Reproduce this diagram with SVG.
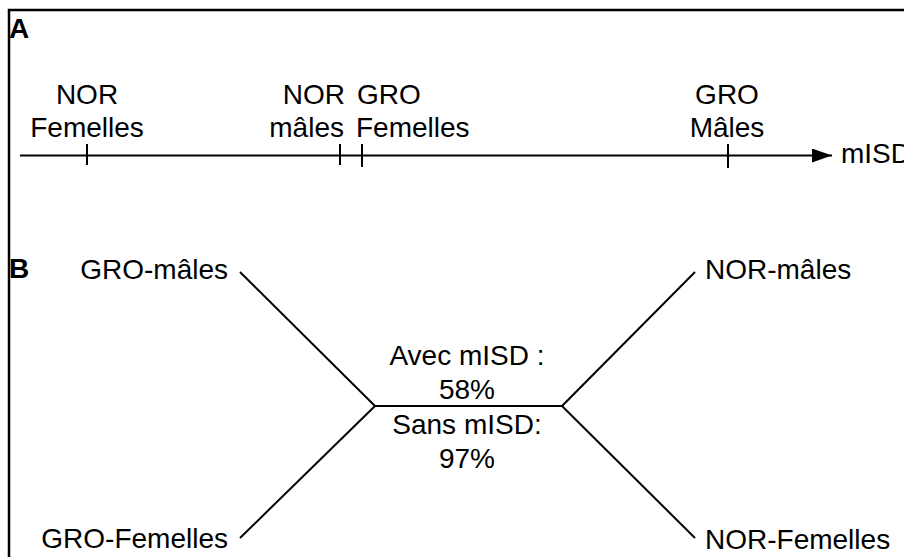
<svg xmlns="http://www.w3.org/2000/svg" width="904" height="557" viewBox="0 0 904 557">
<style>
  .t { font-family: "Liberation Sans", Arial, sans-serif; font-size: 28px; fill: #000; }
  .lbl { font-family: "Liberation Sans", Arial, sans-serif; font-size: 28px; font-weight: bold; fill: #000; }
  .ln { stroke: #000; stroke-width: 2; fill: none; }
  .tick { stroke: #000; stroke-width: 2; }
</style>
<defs>
  <marker id="arr" markerUnits="userSpaceOnUse" markerWidth="22" markerHeight="14" refX="20" refY="7" orient="auto">
    <path d="M0,0 L20,7 L0,14 Z" fill="#000"/>
  </marker>
</defs>
<rect x="0" y="0" width="904" height="557" fill="#fff"/>
<!-- frame -->
<path d="M9,557 L9,10 L904,10" fill="none" stroke="#000" stroke-width="2.5"/>
<text class="lbl" x="9" y="38">A</text>
<text class="lbl" x="9" y="278">B</text>

<!-- Panel A -->
<g id="axis">
  <line class="ln" x1="20" y1="155.5" x2="832" y2="155.5" marker-end="url(#arr)"/>
  <text class="t" x="841" y="163">mISD</text>
</g>
<g id="nor-femelles-a">
  <line class="tick" x1="87" y1="144" x2="87" y2="165"/>
  <text class="t" x="87" y="104" text-anchor="middle">NOR</text>
  <text class="t" x="87" y="137" text-anchor="middle">Femelles</text>
</g>
<g id="nor-males-a">
  <line class="tick" x1="340" y1="144" x2="340" y2="165"/>
  <text class="t" x="345" y="104" text-anchor="end">NOR</text>
  <text class="t" x="344" y="137" text-anchor="end">mâles</text>
</g>
<g id="gro-femelles-a">
  <line class="tick" x1="362" y1="144" x2="362" y2="167"/>
  <text class="t" x="357" y="104">GRO</text>
  <text class="t" x="356" y="137">Femelles</text>
</g>
<g id="gro-males-a">
  <line class="tick" x1="728" y1="144" x2="728" y2="168"/>
  <text class="t" x="727" y="104" text-anchor="middle">GRO</text>
  <text class="t" x="727" y="137" text-anchor="middle">Mâles</text>
</g>

<!-- Panel B -->
<g id="connectors">
  <line class="ln" x1="240" y1="272" x2="375" y2="406"/>
  <line class="ln" x1="240" y1="538" x2="375" y2="406"/>
  <line class="ln" x1="375" y1="406" x2="562" y2="406"/>
  <line class="ln" x1="562" y1="406" x2="695" y2="272"/>
  <line class="ln" x1="562" y1="406" x2="695" y2="538"/>
</g>
<g id="gro-males-b">
  <text class="t" x="228" y="279" text-anchor="end">GRO-mâles</text>
</g>
<g id="gro-femelles-b">
  <text class="t" x="228" y="548" text-anchor="end">GRO-Femelles</text>
</g>
<g id="nor-males-b">
  <text class="t" x="705" y="279">NOR-mâles</text>
</g>
<g id="nor-femelles-b">
  <text class="t" x="705" y="549">NOR-Femelles</text>
</g>
<g id="branch-labels">
  <text class="t" x="467" y="365" text-anchor="middle">Avec mISD :</text>
  <text class="t" x="467" y="399" text-anchor="middle">58%</text>
  <text class="t" x="467" y="434" text-anchor="middle">Sans mISD:</text>
  <text class="t" x="467" y="468" text-anchor="middle">97%</text>
</g>
</svg>
